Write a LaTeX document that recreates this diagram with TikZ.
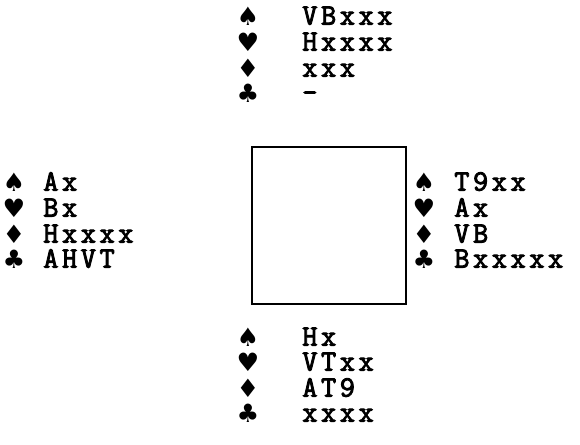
\documentclass[tikz,border=0pt]{standalone}
\usepackage{fontspec}
\usepackage{tikz}
\newfontfamily\suitfont{DejaVu Sans}
\newfontfamily\cardfont{Latin Modern Mono}[FakeBold=3,LetterSpace=12]

\begin{document}
\begin{tikzpicture}[every node/.style={inner sep=0pt},
    suit/.style={font=\suitfont\fontsize{18}{18}\selectfont},
    hand/.style={anchor=base west,font=\cardfont\fontsize{21}{21}\selectfont}]
    \useasboundingbox (0,0) rectangle (14.5,11.125);

    % table
    \node[draw=black,line width=1.2pt,minimum width=3.85cm,minimum height=3.925cm] (T) at (8.225,5.4875) {};

    % north
    \node[suit] (NS) at (6.2,10.725) {♠};
    \node[suit] (NH) at (6.2,10.075) {♥};
    \node[suit] (ND) at (6.2,9.425) {♦};
    \node[suit] (NC) at (6.2,8.8) {♣};
    \node[hand] (Ns) at (7.55,10.51) {VBxxx};
    \node[hand] (Nh) at (7.55,9.86) {Hxxxx};
    \node[hand] (Nd) at (7.55,9.21) {xxx};
    \node[hand] (Nc) at (7.55,8.585) {-};

    % west
    \node[suit] (WS) at (0.35,6.575) {♠};
    \node[suit] (WH) at (0.35,5.925) {♥};
    \node[suit] (WD) at (0.35,5.275) {♦};
    \node[suit] (WC) at (0.35,4.65) {♣};
    \node[hand] (Ws) at (1.075,6.36) {Ax};
    \node[hand] (Wh) at (1.075,5.71) {Bx};
    \node[hand] (Wd) at (1.075,5.06) {Hxxxx};
    \node[hand] (Wc) at (1.075,4.435) {AHVT};

    % east
    \node[suit] (ES) at (10.6,6.575) {♠};
    \node[suit] (EH) at (10.6,5.925) {♥};
    \node[suit] (ED) at (10.6,5.275) {♦};
    \node[suit] (EC) at (10.6,4.65) {♣};
    \node[hand] (Es) at (11.35,6.36) {T9xx};
    \node[hand] (Eh) at (11.35,5.71) {Ax};
    \node[hand] (Ed) at (11.35,5.06) {VB};
    \node[hand] (Ec) at (11.35,4.435) {Bxxxxx};

    % south
    \node[suit] (SS) at (6.2,2.7) {♠};
    \node[suit] (SH) at (6.2,2.075) {♥};
    \node[suit] (SD) at (6.2,1.425) {♦};
    \node[suit] (SC) at (6.2,0.8) {♣};
    \node[hand] (Ss) at (7.55,2.485) {Hx};
    \node[hand] (Sh) at (7.55,1.86) {VTxx};
    \node[hand] (Sd) at (7.55,1.21) {AT9};
    \node[hand] (Sc) at (7.55,0.585) {xxxx};
\end{tikzpicture}
\end{document}
